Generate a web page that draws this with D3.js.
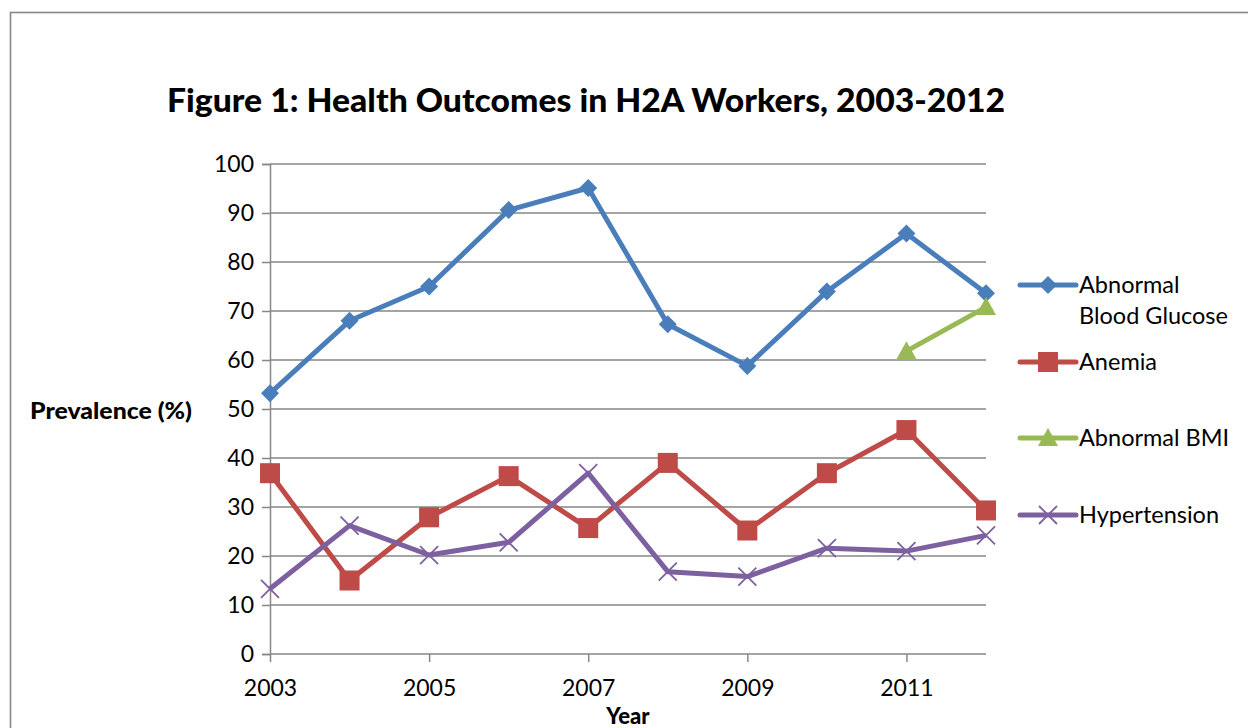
<!DOCTYPE html>
<html>
<head>
<meta charset="utf-8">
<script src="https://cdnjs.cloudflare.com/ajax/libs/d3/7.8.5/d3.min.js"></script>
<style>
  body { margin: 0; background: #fff; }
  svg { display: block; }
</style>
</head>
<body>
<div id="chart"></div>
<script>
// Datos
// =====
var years = ["2003", "2004", "2005", "2006", "2007", "2008", "2009", "2010", "2011", "2012"];
var glucose = [53.2, 68.0, 75.0, 90.6, 95.1, 67.3, 58.8, 74.0, 85.8, 73.6];
var anemia = [36.9, 15.0, 27.9, 36.3, 25.7, 39.0, 25.2, 36.9, 45.7, 29.3];
var bmi = [null, null, null, null, null, null, null, null, 61.8, 70.8];
var hypertension = [13.3, 26.2, 20.2, 22.8, 36.9, 16.8, 15.8, 21.6, 21.0, 24.2];
var yTicks = [0, 10, 20, 30, 40, 50, 60, 70, 80, 90, 100];
var xTickLabels = ["2003", "2005", "2007", "2009", "2011"];

var series = [
  { name: ["Abnormal", "Blood Glucose"], values: glucose, color: "#4A7EBB", marker: "diamond" },
  { name: ["Anemia"], values: anemia, color: "#BE4B48", marker: "square" },
  { name: ["Abnormal BMI"], values: bmi, color: "#98B954", marker: "triangle" },
  { name: ["Hypertension"], values: hypertension, color: "#7D60A0", marker: "cross" }
];
var legendY = [285, 362, 438, 515];

// Dimensiones
// ===========
var W = 1248, H = 728;
var plot = { left: 270, right: 986, top: 164, bottom: 654 };
var font = "Lato, 'Open Sans', sans-serif";

var svg = d3.select("#chart")
  .append("svg")
  .attr("width", W)
  .attr("height", H);

// marco
svg.append("rect")
  .attr("x", 10.5).attr("y", 12.5)
  .attr("width", W + 20).attr("height", H + 20)
  .attr("fill", "none")
  .attr("stroke", "#888")
  .attr("stroke-width", 1.6);

// Escalas
// =======
var x = d3.scalePoint().domain(years).range([plot.left, plot.right]);
var y = d3.scaleLinear().domain([0, 100]).range([plot.bottom, plot.top]);

// Titulo
svg.append("text")
  .attr("x", 586).attr("y", 112)
  .attr("text-anchor", "middle")
  .attr("font-family", font)
  .attr("font-weight", 900)
  .attr("font-size", 32)
  .attr("textLength", 838)
  .attr("lengthAdjust", "spacingAndGlyphs")
  .attr("fill", "#000")
  .text("Figure 1: Health Outcomes in H2A Workers, 2003-2012");

// Eje Y
// =====
var yAxis = svg.append("g")
  .attr("transform", "translate(" + plot.left + ",0)")
  .call(d3.axisLeft(y).tickValues(yTicks).tickSize(8).tickPadding(8));
yAxis.select(".domain").attr("stroke", "#868686").attr("stroke-width", 1.5);
yAxis.selectAll(".tick line").attr("stroke", "#868686").attr("stroke-width", 1.5);
yAxis.selectAll(".tick text")
  .attr("font-family", font).attr("font-size", 23).attr("fill", "#000");

// rejilla
svg.append("g")
  .selectAll("line")
  .data(yTicks.filter(function(d) { return d > 0; }))
  .join("line")
  .attr("x1", plot.left).attr("x2", plot.right)
  .attr("y1", function(d) { return y(d); })
  .attr("y2", function(d) { return y(d); })
  .attr("stroke", "#868686")
  .attr("stroke-width", 1.5);

svg.append("text")
  .attr("x", 111).attr("y", 419)
  .attr("text-anchor", "middle")
  .attr("font-family", font)
  .attr("font-weight", 900)
  .attr("font-size", 22)
  .attr("textLength", 162)
  .attr("lengthAdjust", "spacingAndGlyphs")
  .text("Prevalence (%)");

// Eje X
// =====
var xAxis = svg.append("g")
  .attr("transform", "translate(0," + plot.bottom + ")")
  .call(d3.axisBottom(x).tickValues(xTickLabels).tickSize(8).tickPadding(18));
xAxis.select(".domain").attr("d", "M" + plot.left + ",0H" + plot.right)
  .attr("stroke", "#868686").attr("stroke-width", 1.5);
xAxis.selectAll(".tick line").attr("stroke", "#868686").attr("stroke-width", 1.5);
xAxis.selectAll(".tick text")
  .attr("font-family", font).attr("font-size", 23).attr("fill", "#000");

svg.append("text")
  .attr("x", 628).attr("y", 724)
  .attr("text-anchor", "middle")
  .attr("font-family", font)
  .attr("font-weight", 900)
  .attr("font-size", 22)
  .text("Year");

// Marcadores
// ==========
function drawMarker(g, type, color) {
  if (type === "diamond") {
    g.append("path").attr("d", "M0,-9L9,0L0,9L-9,0Z").attr("fill", color);
  } else if (type === "square") {
    g.append("rect").attr("x", -10).attr("y", -10).attr("width", 20).attr("height", 20).attr("fill", color);
  } else if (type === "triangle") {
    g.append("path").attr("d", "M0,-10L10,8L-10,8Z").attr("fill", color);
  } else {
    g.append("path").attr("d", "M-9,-9L9,9M-9,9L9,-9")
      .attr("stroke", color).attr("stroke-width", 1.8).attr("fill", "none");
  }
}

// Lineas
// ======
var line = d3.line()
  .defined(function(d) { return d != null; })
  .x(function(d, i) { return x(years[i]); })
  .y(function(d) { return y(d); });

series.forEach(function(s) {
  svg.append("path")
    .datum(s.values)
    .attr("fill", "none")
    .attr("stroke", s.color)
    .attr("stroke-width", 5)
    .attr("stroke-linejoin", "round")
    .attr("d", line);
});

series.forEach(function(s) {
  s.values.forEach(function(v, i) {
    if (v == null) return;
    var g = svg.append("g").attr("transform", "translate(" + x(years[i]) + "," + y(v) + ")");
    drawMarker(g, s.marker, s.color);
  });
});

// Leyenda
// =======
series.forEach(function(s, i) {
  var g = svg.append("g").attr("transform", "translate(1020," + legendY[i] + ")");
  g.append("line")
    .attr("x1", 0).attr("x2", 56)
    .attr("stroke", s.color).attr("stroke-width", 5)
    .attr("stroke-linecap", "round");
  var m = g.append("g").attr("transform", "translate(28,0)");
  drawMarker(m, s.marker, s.color);
  s.name.forEach(function(t, j) {
    g.append("text")
      .attr("x", 59).attr("y", 8 + j * 31)
      .attr("font-family", font)
      .attr("font-size", 23.5)
      .attr("fill", "#000")
      .text(t);
  });
});
</script>
</body>
</html>
